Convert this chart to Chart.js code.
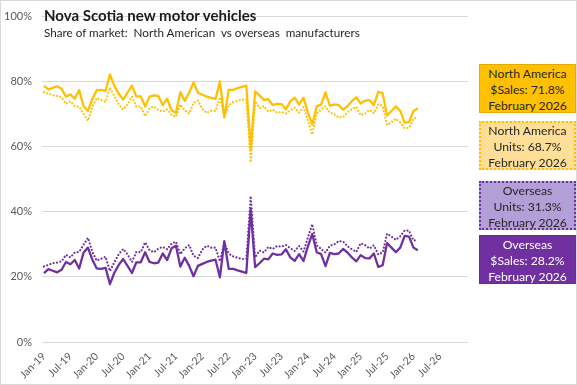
<!DOCTYPE html>
<html>
<head>
<meta charset="utf-8">
<script src="https://cdn.jsdelivr.net/npm/chart.js@4.4.1/dist/chart.umd.min.js"></script>
<style>
  html, body { margin:0; padding:0; background:#fff; }
  #wrap { position:relative; width:577px; height:385px; overflow:hidden; font-family:Lato, "Liberation Sans", sans-serif; }
  #frame { position:absolute; left:0; top:0; width:575px; height:383px; border:1px solid #d9d9d9; pointer-events:none; }
  canvas { position:absolute; left:0; top:0; }
  .title { position:absolute; left:44px; top:7px; font-size:15px; font-weight:700; color:#1a1a1a; white-space:pre; line-height:16px; }
  .sub { position:absolute; left:44px; top:25px; font-size:11.7px; color:#262626; white-space:pre; line-height:14px; }
  .box { position:absolute; left:479px; width:97px; height:49px; box-sizing:border-box; text-align:center; font-size:12.2px; line-height:16px; color:#262626; padding-top:1px; }
  #b1 { top:64px; background:#ffc000; border:1px solid #e5ab00; }
  #b2 { top:121px; background:#ffdf98; border:2px dotted #ffc000; padding-top:0; }
  #b3 { top:181px; background:#b39fd7; border:2px dotted #7030a0; padding-top:0; }
  #b4 { top:235px; background:#7030a0; border:1px solid #6a2c98; color:#fff; }
</style>
</head>
<body>
<div id="wrap">
  <canvas id="c" width="577" height="385"></canvas>
  <div class="title">Nova Scotia new motor vehicles</div>
  <div class="sub">Share of market:  North American  vs overseas  manufacturers</div>
  <div class="box" id="b1">North America<br>$Sales: 71.8%<br>February 2026</div>
  <div class="box" id="b2">North America<br>Units: 68.7%<br>February 2026</div>
  <div class="box" id="b3">Overseas<br>Units: 31.3%<br>February 2026</div>
  <div class="box" id="b4">Overseas<br>$Sales: 28.2%<br>February 2026</div>
  <div id="frame"></div>
</div>
<script>
// Monthly categories: Jan-19 .. Feb-26 (86 months)
const startYear = 2019;
const monthNames = ["Jan","Feb","Mar","Apr","May","Jun","Jul","Aug","Sep","Oct","Nov","Dec"];
const months = [];
for (let i = 0; i < 86; i++) {
  months.push(monthNames[i % 12] + "-" + String((startYear + Math.floor(i / 12)) % 100));
}
// x-axis tick labels (every 6 months)
const tickLabels = ["Jan-19","Jul-19","Jan-20","Jul-20","Jan-21","Jul-21","Jan-22","Jul-22",
                    "Jan-23","Jul-23","Jan-24","Jul-24","Jan-25","Jul-25","Jan-26","Jul-26"];
const yTicks = [0, 20, 40, 60, 80, 100];

// Series (% share of market)
const naSales = [78.8,77.6,78.1,78.6,77.8,75.4,76.1,74.8,77.4,72.5,
71.0,74.7,77.4,77.5,77.2,82.2,78.7,76.3,74.5,76.6,
78.8,75.5,75.5,72.4,75.4,75.8,75.6,72.8,74.8,71.2,
70.4,76.8,74.1,76.6,79.8,76.6,76.0,75.4,75.0,74.7,
80.1,69.0,77.5,77.5,78.0,78.4,78.8,59.3,77.0,75.8,
74.4,74.6,72.8,73.2,73.1,71.5,74.0,75.1,73.0,75.1,
70.6,66.8,72.4,73.0,76.7,72.6,73.0,72.8,71.4,72.5,
74.0,75.2,73.3,74.2,74.3,72.8,76.9,76.4,69.6,71.0,
72.4,71.0,67.4,67.6,71.0,71.8];

const naUnits = [76.8,76.3,75.8,75.6,75.2,73.2,74.0,72.5,72.3,70.1,
68.0,72.3,75.0,74.4,73.8,78.2,75.5,73.0,71.4,73.1,
75.4,72.3,72.4,69.4,71.8,72.4,71.3,70.8,71.5,69.8,
69.2,73.0,71.2,70.2,73.5,74.2,71.6,70.4,71.0,71.0,
75.2,69.5,72.8,73.7,74.1,74.5,74.5,55.2,74.0,71.9,
72.5,70.8,71.4,70.5,70.7,70.2,71.2,72.0,70.5,72.2,
67.9,63.8,70.3,71.4,72.5,70.4,70.0,69.0,69.1,70.6,
71.5,72.3,69.7,70.2,71.3,70.3,73.1,72.5,66.7,67.6,
68.6,67.5,65.7,65.8,68.8,68.7];

const osUnits = [23.2,23.7,24.2,24.4,24.8,26.8,26.0,27.5,27.7,29.9,
32.0,27.7,25.0,25.6,26.2,21.8,24.5,27.0,28.6,26.9,
24.6,27.7,27.6,30.6,28.2,27.6,28.7,29.2,28.5,30.2,
30.8,27.0,28.8,29.8,26.5,25.8,28.4,29.6,29.0,29.0,
24.8,30.5,27.2,26.3,25.9,25.5,25.5,44.8,26.0,28.1,
27.5,29.2,28.6,29.5,29.3,29.8,28.8,28.0,29.5,27.8,
32.1,36.2,29.7,28.6,27.5,29.6,30.0,31.0,30.9,29.4,
28.5,27.7,30.3,29.8,28.7,29.7,26.9,27.5,33.3,32.4,
31.4,32.5,34.3,34.2,31.2,31.3];

const osSales = [21.2,22.4,21.9,21.4,22.2,24.6,23.9,25.2,22.6,27.5,
29.0,25.3,22.6,22.5,22.8,17.8,21.3,23.7,25.5,23.4,
21.2,24.5,24.5,27.6,24.6,24.2,24.4,27.2,25.2,28.8,
29.6,23.2,25.9,23.4,20.2,23.4,24.0,24.6,25.0,25.3,
19.9,31.0,22.5,22.5,22.0,21.6,21.2,40.7,23.0,24.2,
25.6,25.4,27.2,26.8,26.9,28.5,26.0,24.9,27.0,24.9,
29.4,33.2,27.6,27.0,23.3,27.4,27.0,27.2,28.6,27.5,
26.0,24.8,26.7,25.8,25.7,27.2,23.1,23.6,30.4,29.0,
27.6,29.0,32.6,32.4,29.0,28.2];

const toXY = arr => arr.map((v, i) => ({ x: i, y: v, m: months[i] }));
const GOLD = '#ffc000', PURPLE = '#7030a0';
const dotted = [0.01, 3.4];

new Chart(document.getElementById('c'), {
  type: 'line',
  data: {
    datasets: [
      { label: 'North America $Sales', data: toXY(naSales), borderColor: GOLD, borderWidth: 2.3 },
      { label: 'North America Units', data: toXY(naUnits), borderColor: GOLD, borderWidth: 2.2, borderDash: dotted, borderCapStyle: 'round' },
      { label: 'Overseas Units', data: toXY(osUnits), borderColor: PURPLE, borderWidth: 2.2, borderDash: dotted, borderCapStyle: 'round' },
      { label: 'Overseas $Sales', data: toXY(osSales), borderColor: PURPLE, borderWidth: 2.3 }
    ]
  },
  options: {
    responsive: false,
    animation: false,
    devicePixelRatio: 1,
    layout: { padding: { left: 0, right: 109, top: 7, bottom: 0 } },
    elements: { point: { radius: 0 }, line: { tension: 0, borderJoinStyle: 'round' } },
    plugins: { legend: { display: false }, tooltip: { enabled: false } },
    scales: {
      x: {
        type: 'linear',
        min: -0.45,
        max: 96.4,
        afterBuildTicks: s => { s.ticks = tickLabels.map((t, k) => ({ value: k * 6 })); },
        afterFit: s => { s.height = 43; },
        grid: { display: false, drawTicks: false },
        border: { display: false },
        ticks: {
          autoSkip: false, minRotation: 45, maxRotation: 45, padding: 8,
          color: '#595959', font: { family: 'Lato', size: 10.5 },
          callback: v => tickLabels[Math.round(v / 6)]
        }
      },
      y: {
        min: 0, max: 100,
        afterBuildTicks: s => { s.ticks = yTicks.map(v => ({ value: v })); },
        afterFit: s => { s.width = 42; },
        grid: { color: '#d9d9d9', lineWidth: 1, drawTicks: false },
        border: { display: false },
        ticks: { padding: 10, color: '#595959', font: { family: 'Lato', size: 11 }, callback: v => v + '%' }
      }
    }
  }
});
</script>
</body>
</html>
